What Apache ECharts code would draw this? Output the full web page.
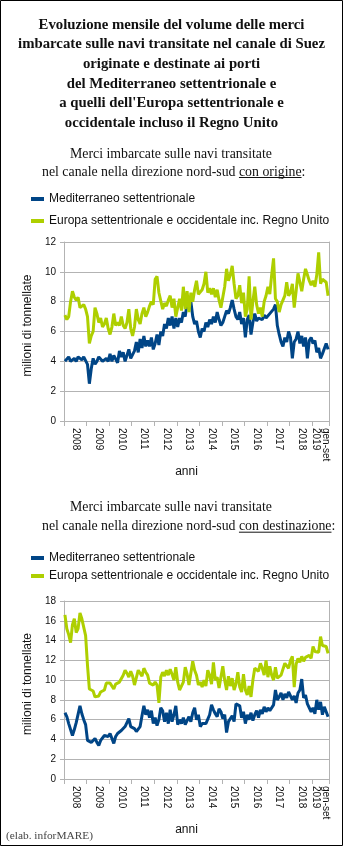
<!DOCTYPE html>
<html>
<head>
<meta charset="utf-8">
<script src="https://cdn.jsdelivr.net/npm/echarts@6/dist/echarts.min.js"></script>
<style>
html,body{margin:0;padding:0;background:#fff;}
#c{width:343px;height:846px;}
</style>
</head>
<body>
<div id="c"></div>
<script>
// ---- data ----
const years = ['2008','2009','2010','2011','2012','2013','2014','2015','2016','2017','2018','2019'];
const monthsPerYear = [12,12,12,12,12,12,12,12,12,12,12,9];
const xTickLabels = ['2008','2009','2010','2011','2012','2013','2014','2015','2016','2017','2018','gen-set\n2019'];
const yTicks1 = [0,2,4,6,8,10,12];
const yTicks2 = [0,2,4,6,8,10,12,14,16,18];
const seriesNames = ['Mediterraneo settentrionale','Europa settentrionale e occidentale inc. Regno Unito'];

const medOrig = [
4.0,3.9,4.3,4.0,4.1,4.2,4.0,4.3,4.2,4.1,4.3,4.4,
3.8,2.5,3.5,4.2,3.8,4.0,4.3,4.4,4.0,3.9,4.2,4.0,
4.5,4.0,4.4,4.3,3.9,4.7,4.3,4.6,4.0,4.4,4.8,4.2,
4.1,4.7,5.3,4.6,5.5,4.9,5.7,5.0,5.4,5.0,5.6,4.8,
5.2,5.8,5.1,6.0,5.7,6.5,6.2,6.9,6.4,7.0,6.2,6.9,
6.3,6.9,6.6,7.3,7.0,7.9,7.6,8.0,7.0,6.5,6.7,6.0,
5.6,6.2,6.0,6.6,6.3,6.8,6.5,7.0,6.6,7.3,6.8,6.4,
6.6,7.0,7.4,7.2,7.6,8.1,7.5,7.0,6.8,7.3,6.5,6.9,
5.6,6.8,7.1,5.8,6.6,7.2,6.7,6.9,7.0,6.8,7.1,6.9,
7.0,7.2,7.3,7.5,7.8,6.4,5.8,5.3,5.0,5.6,5.3,6.0,
5.6,4.2,5.3,5.5,6.0,5.2,5.7,5.0,5.6,4.2,5.4,5.6,
5.2,5.4,4.6,4.9,4.2,4.5,4.6,5.2,4.8
];
const eurOrig = [
7.1,6.8,7.0,8.0,8.7,8.3,8.1,8.3,7.6,7.7,7.8,7.5,
7.0,5.2,5.7,6.0,7.6,7.2,6.6,6.9,6.3,6.5,6.9,6.2,
5.8,6.3,7.2,6.4,6.6,6.4,7.0,6.4,6.2,6.6,7.5,6.2,
5.7,6.3,7.5,6.8,6.5,7.2,7.6,7.0,7.3,7.7,8.0,7.8,
9.5,9.7,8.6,8.7,7.5,7.9,7.7,8.1,8.4,7.6,8.2,7.0,
7.0,8.2,7.4,9.0,7.5,8.7,7.3,8.6,8.0,8.8,9.4,8.5,
8.4,8.8,9.2,10.0,8.6,8.9,8.5,8.9,8.3,8.8,8.1,7.6,
7.6,9.0,10.2,9.4,9.8,10.4,9.2,8.2,8.4,9.1,7.9,8.6,
7.0,7.5,9.7,6.8,8.0,9.0,7.8,7.2,7.6,7.0,8.0,8.4,
9.0,8.5,9.8,10.9,8.2,8.0,7.3,7.8,8.1,8.4,9.3,8.4,
8.6,9.2,7.6,8.7,9.9,9.3,8.7,9.5,10.2,9.8,9.4,9.1,
9.4,9.0,9.8,11.3,9.2,9.5,9.6,9.3,8.4
];
const medDest = [
6.7,6.3,5.6,5.4,4.4,5.0,5.7,5.5,7.4,6.6,6.0,5.5,
3.9,3.8,3.7,3.5,4.1,3.7,3.4,3.9,4.1,4.4,4.5,4.3,
4.6,4.4,3.6,4.3,4.6,4.8,4.9,5.0,5.3,5.4,6.1,5.3,
5.3,5.1,4.8,4.9,5.3,6.4,7.4,6.5,7.0,6.2,6.9,5.6,
6.2,5.4,6.0,7.2,6.9,5.8,6.7,5.6,7.0,5.8,6.5,7.4,
5.5,6.0,5.6,6.2,5.5,5.9,6.3,5.8,6.7,7.2,6.0,6.5,
5.3,5.6,5.4,5.6,5.4,6.5,7.5,7.0,6.6,6.3,7.1,6.8,
6.1,6.5,4.7,5.8,6.0,6.4,5.8,7.6,7.5,7.4,6.2,6.8,
5.6,6.5,6.0,6.7,5.9,6.5,6.9,6.2,7.0,6.6,7.3,6.8,
7.2,6.9,7.0,7.5,9.0,8.0,8.3,8.7,8.0,8.6,8.2,8.8,
8.4,8.0,8.4,7.7,8.7,9.0,10.1,8.2,8.5,7.6,7.8,6.8,
7.2,6.6,8.0,7.0,7.8,6.5,7.3,6.8,6.3
];
const eurDest = [
16.6,15.2,14.6,13.8,15.6,16.2,14.8,15.2,16.8,16.2,16.0,14.5,
11.5,9.1,9.0,8.9,8.3,8.2,8.4,8.8,9.0,9.0,9.7,9.5,
9.7,9.5,9.1,9.6,9.4,9.8,10.0,10.5,11.0,10.7,10.3,10.9,
10.4,9.5,9.4,11.0,10.8,10.4,11.2,10.8,10.5,9.7,9.8,9.5,
9.8,9.5,7.7,10.3,10.8,10.4,11.0,10.5,11.1,10.6,10.0,11.3,
9.8,9.0,8.8,9.8,11.3,10.6,9.5,9.4,11.9,11.0,10.5,9.5,
9.8,9.3,10.0,9.4,11.0,10.5,9.6,11.8,10.0,10.3,9.2,9.0,
11.4,10.0,9.0,10.4,9.4,10.2,9.0,9.6,10.8,9.3,8.8,10.6,
9.0,8.5,9.4,8.3,10.0,11.2,11.4,10.9,11.7,11.2,10.5,12.0,
10.3,11.4,10.5,10.0,11.3,10.2,10.1,10.5,10.7,11.7,11.5,11.2,
12.0,12.4,9.3,11.6,12.2,11.8,12.4,11.9,12.3,12.1,12.5,12.2,
13.4,12.9,13.0,12.8,14.4,13.5,13.3,13.4,12.7
];

// ---- derived categories ----
const categories = [];
const yearStart = {};
const labelAt = {};
years.forEach((y, i) => {
  const s = categories.length;
  yearStart[s] = true;
  labelAt[s + Math.floor(monthsPerYear[i] / 2)] = xTickLabels[i];
  for (let m = 1; m <= monthsPerYear[i]; m++) categories.push(y + '-' + m);
});

const BLUE = '#004586', GREEN = '#aecf00', GRID = '#b3b3b3', TXT = '#111';
const SANS = '"Liberation Sans", Arial, sans-serif';
const SERIF = '"Liberation Serif", "Times New Roman", serif';

function xAxisFor(gi, gap) {
  return {
    type: 'category', gridIndex: gi, data: categories, boundaryGap: true,
    name: 'anni', nameLocation: 'middle', nameGap: gap,
    nameTextStyle: {fontFamily: SANS, fontSize: 12, color: TXT, padding: [0, 20, 0, 0]},
    axisLine: {show: true, lineStyle: {color: GRID, width: 1}},
    axisTick: {show: true, length: 5, interval: (i) => !!yearStart[i], lineStyle: {color: GRID}},
    axisLabel: {
      interval: (i) => labelAt[i] !== undefined, rotate: -90, margin: 7,
      fontFamily: SANS, fontSize: 10, color: TXT, lineHeight: 10,
      formatter: (v, i) => labelAt[i] || ''
    },
    splitLine: {show: false}
  };
}
function yAxisFor(gi, ticks) {
  return {
    type: 'value', gridIndex: gi, min: ticks[0], max: ticks[ticks.length - 1], interval: ticks[1] - ticks[0],
    name: 'milioni di tonnellate', nameLocation: 'middle', nameGap: 30, nameRotate: 90,
    nameTextStyle: {fontFamily: SANS, fontSize: 12, color: TXT, padding: [0, 0, 0, 12]},
    axisLine: {show: true, lineStyle: {color: GRID}},
    axisTick: {show: true, length: 4, lineStyle: {color: GRID}},
    axisLabel: {fontFamily: SANS, fontSize: 10, color: TXT, margin: 8},
    splitLine: {show: true, lineStyle: {color: GRID, width: 1}}
  };
}
function rightAxis(gi, ticks) {
  return {
    type: 'value', gridIndex: gi, position: 'right', min: ticks[0], max: ticks[ticks.length - 1],
    axisLine: {show: true, lineStyle: {color: GRID}}, axisTick: {show: false},
    axisLabel: {show: false}, splitLine: {show: false}
  };
}
function lineSeries(name, data, color, xi, yi) {
  return {
    type: 'line', name, data, xAxisIndex: xi, yAxisIndex: yi,
    showSymbol: false, symbol: 'none', color,
    lineStyle: {color, width: 3}, emphasis: {disabled: true}
  };
}
const legendBase = {
  orient: 'vertical', left: 26, icon: 'rect', itemWidth: 13, itemHeight: 4,
  textStyle: {fontFamily: SANS, fontSize: 12, color: TXT, lineHeight: 14},
  data: seriesNames, selectedMode: false
};

// ---- text measuring for graphic texts ----
const mctx = document.createElement('canvas').getContext('2d');
function mw(text, font) { mctx.font = font; return mctx.measureText(text).width; }
function fitSize(text, weight, family, width) {
  return 100 * width / mw(text, weight + ' 100px ' + family);
}

const titleLines = [
  'Evoluzione mensile del volume delle merci',
  'imbarcate sulle navi transitate nel canale di Suez',
  'originate e destinate ai porti',
  'del Mediterraneo settentrionale e',
  'a quelli dell\'Europa settentrionale e',
  'occidentale incluso il Regno Unito'
];
const sub1 = 'Merci imbarcate sulle navi transitate';
const sub2pre = 'nel canale nella direzione nord-sud ';
const sub2a = 'con origine';
const sub2b = 'con destinazione';
const credit = '(elab. inforMARE)';

const tFs = fitSize(titleLines[1], 'bold', SERIF, 307);
const tFont = 'bold ' + tFs.toFixed(2) + 'px ' + SERIF;
const sFs = fitSize(sub1, 'normal', SERIF, 202);
const sFont = 'normal ' + sFs.toFixed(2) + 'px ' + SERIF;
const cFs = fitSize(credit, 'normal', SERIF, 87);
const cFont = 'normal ' + cFs.toFixed(2) + 'px ' + SERIF;

const graphics = [
  {type: 'rect', shape: {x: 0.5, y: 0.5, width: 342, height: 845}, style: {fill: 'none', stroke: '#000', lineWidth: 1}, silent: true}
];
titleLines.forEach((t, i) => {
  graphics.push({type: 'text', style: {text: t, x: 171.5, y: 25 + i * 19.6, font: tFont, fill: TXT, align: 'center', verticalAlign: 'middle'}, silent: true});
});
function subtitle(y1, y2, key) {
  graphics.push({type: 'text', style: {text: sub1, x: 70, y: y1, font: sFont, fill: TXT, align: 'left', verticalAlign: 'middle'}, silent: true});
  const full = sub2pre + key + ':';
  graphics.push({type: 'text', style: {text: full, x: 42, y: y2, font: sFont, fill: TXT, align: 'left', verticalAlign: 'middle'}, silent: true});
  const x0 = 42 + mw(sub2pre, sFont);
  const x1 = x0 + mw(key, sFont);
  graphics.push({type: 'line', shape: {x1: x0, y1: y2 + 5.5, x2: x1, y2: y2 + 5.5}, style: {stroke: TXT, lineWidth: 1}, silent: true});
}
subtitle(154.3, 172, sub2a);
subtitle(507.3, 526.7, sub2b);
graphics.push({type: 'text', style: {text: credit, x: 6, y: 836, font: cFont, fill: '#444', align: 'left', verticalAlign: 'middle'}, silent: true});

const chart = echarts.init(document.getElementById('c'), null, {renderer: 'canvas'});
chart.setOption({
  animation: false,
  backgroundColor: '#fff',
  grid: [
    {left: 64, right: 14, top: 242, height: 179},
    {left: 64, right: 14, top: 601, height: 178}
  ],
  legend: [
    Object.assign({}, legendBase, {top: 187, itemGap: 8}),
    Object.assign({}, legendBase, {top: 546, itemGap: 4})
  ],
  xAxis: [xAxisFor(0, 41), xAxisFor(1, 40)],
  yAxis: [yAxisFor(0, yTicks1), yAxisFor(1, yTicks2), rightAxis(0, yTicks1), rightAxis(1, yTicks2)],
  series: [
    lineSeries(seriesNames[0], medOrig, BLUE, 0, 0),
    lineSeries(seriesNames[1], eurOrig, GREEN, 0, 0),
    lineSeries(seriesNames[0], medDest, BLUE, 1, 1),
    lineSeries(seriesNames[1], eurDest, GREEN, 1, 1)
  ],
  graphic: graphics
});
</script>
</body>
</html>
